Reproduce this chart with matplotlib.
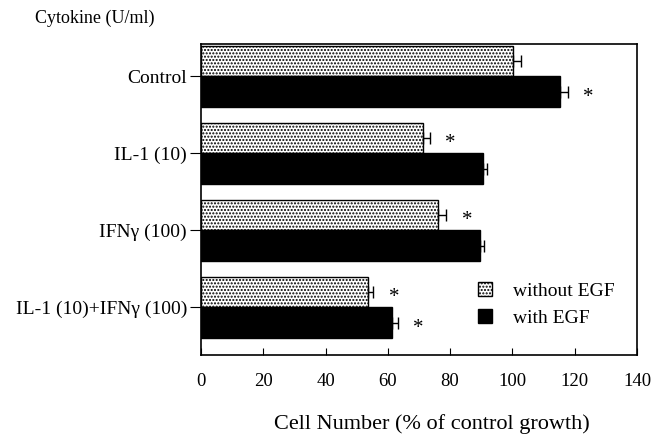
import numpy as np
import matplotlib.pyplot as plt

plt.rcParams['font.family'] = ['Liberation Serif', 'DejaVu Serif']
plt.rcParams['hatch.linewidth'] = 1.0

cytokines = ["Control", "IL-1 (10)", "IFN\u03b3 (100)", "IL-1 (10)+IFN\u03b3 (100)"]
without_egf = [100.3, 71.2, 76.0, 53.5]
without_err = [2.5, 2.3, 2.7, 1.8]
with_egf = [115.3, 90.5, 89.5, 61.2]
with_err = [2.5, 1.5, 1.3, 2.0]
# significance marks (*) per bar
sig_without = [False, True, True, True]
sig_with = [True, False, False, True]

fig = plt.figure(figsize=(6.67, 4.41), dpi=100)
ax = fig.add_axes([0.3013, 0.195, 0.6537, 0.705])

y = np.arange(len(cytokines))
h = 0.4

ax.barh(y - h / 2, without_egf, height=h, color="white", edgecolor="black",
        hatch=".....", linewidth=1.0, label="without EGF")
ax.barh(y + h / 2, with_egf, height=h, color="black", edgecolor="black",
        linewidth=1.0, label="with EGF")

# one-sided error bars
for vals, errs, yy in ((without_egf, without_err, y - h / 2),
                       (with_egf, with_err, y + h / 2)):
    ax.errorbar(vals, yy, xerr=[np.zeros(len(errs)), errs], fmt="none",
                ecolor="black", elinewidth=1.0, capsize=4.5, capthick=1.0)

for vals, errs, yy, sig in ((without_egf, without_err, y - h / 2, sig_without),
                            (with_egf, with_err, y + h / 2, sig_with)):
    for v, e, yi, s in zip(vals, errs, yy, sig):
        if s:
            ax.text(v + e + 5, yi + 0.07, "*", ha="left", va="center", fontsize=15)

ax.set_xlim(0, 140)
ax.set_ylim(3.62, -0.42)
ax.set_xticks(np.arange(0, 141, 20))
ax.set_yticks(y)
ax.set_yticklabels(cytokines)
ax.tick_params(axis="x", direction="in", length=5, labelsize=13.5, pad=13)
ax.tick_params(axis="y", direction="out", length=8, labelsize=14, pad=2)
for spine in ax.spines.values():
    spine.set_linewidth(1.2)

ax.set_xlabel("Cell Number (% of control growth)", fontsize=16)
ax.xaxis.set_label_coords(0.53, -0.19)
fig.text(0.053, 0.958, "Cytokine (U/ml)", fontsize=13, ha="left", va="center")

ax.legend(loc="lower right", bbox_to_anchor=(0.99, 0.035), frameon=False,
          fontsize=14, handlelength=0.75, handleheight=0.75, handletextpad=1.1,
          labelspacing=0.45)

fig.savefig("out.png", dpi=100)
